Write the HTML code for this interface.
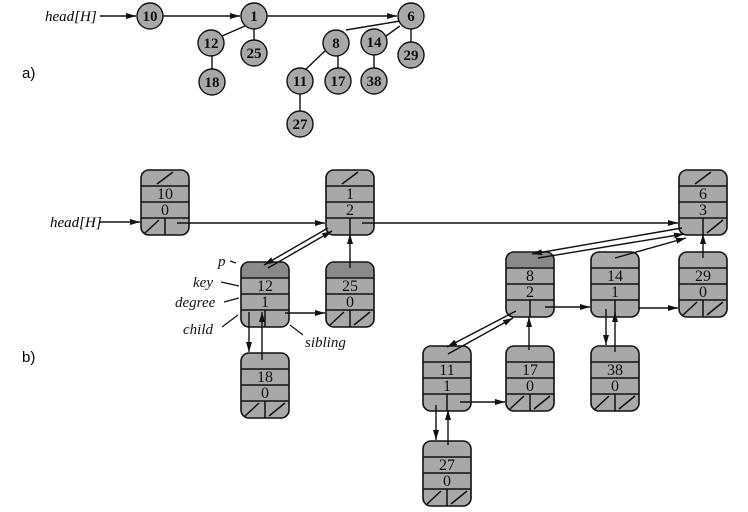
<!DOCTYPE html>
<html><head><style>body{margin:0;background:#fff}svg{display:block}</style></head><body>
<svg width="748" height="512" viewBox="0 0 748 512" xmlns="http://www.w3.org/2000/svg" font-family="Liberation Serif, serif">
<defs>
<marker id="ah" markerWidth="10" markerHeight="6" refX="10" refY="3" orient="auto" markerUnits="userSpaceOnUse"><path d="M0,0 L10,3 L0,6 z" fill="#111"/></marker>
</defs>
<!-- part a -->
<g stroke="#111" stroke-width="1.4" fill="none">
<line x1="100" y1="16" x2="136" y2="16" marker-end="url(#ah)"/>
<line x1="163" y1="16" x2="240" y2="16" marker-end="url(#ah)"/>
<line x1="267" y1="16" x2="397" y2="16" marker-end="url(#ah)"/>
<line x1="245" y1="26" x2="222" y2="36"/>
<line x1="254" y1="29" x2="254" y2="40"/>
<line x1="212" y1="56" x2="212" y2="69"/>
<line x1="346" y1="30" x2="400" y2="21"/>
<line x1="386" y1="36" x2="400" y2="26"/>
<line x1="411" y1="29" x2="411" y2="42"/>
<line x1="326" y1="50" x2="306" y2="69"/>
<line x1="338" y1="56" x2="338" y2="68"/>
<line x1="374" y1="55" x2="374" y2="68"/>
<line x1="300" y1="94" x2="300" y2="111"/>
</g>
<g fill="#a8a8a8" stroke="#111" stroke-width="1.4">
<circle cx="150" cy="16" r="13"/><circle cx="254" cy="16" r="13"/><circle cx="411" cy="16" r="13"/>
<circle cx="211" cy="43" r="13"/><circle cx="254" cy="53" r="13"/><circle cx="212" cy="82" r="13"/>
<circle cx="336" cy="43" r="13"/><circle cx="374" cy="42" r="13"/><circle cx="411" cy="55" r="13"/>
<circle cx="300" cy="81" r="13"/><circle cx="338" cy="81" r="13"/><circle cx="374" cy="81" r="13"/>
<circle cx="300" cy="124" r="13"/>
</g>
<g font-size="15" font-weight="bold" text-anchor="middle" fill="#111">
<text x="150" y="21">10</text><text x="254" y="21">1</text><text x="411" y="21">6</text>
<text x="211" y="48">12</text><text x="254" y="58">25</text><text x="212" y="87">18</text>
<text x="336" y="48">8</text><text x="374" y="47">14</text><text x="411" y="60">29</text>
<text x="300" y="86">11</text><text x="338" y="86">17</text><text x="374" y="86">38</text>
<text x="300" y="129">27</text>
</g>
<text x="45" y="21" font-size="15" font-style="italic">head[H]</text>
<text x="22" y="78" font-size="15" font-family="Liberation Sans, sans-serif">a)</text>
<text x="22" y="362" font-size="15" font-family="Liberation Sans, sans-serif">b)</text>
<text x="50" y="227" font-size="15" font-style="italic">head[H]</text>

<g stroke="#111" stroke-width="1.6" fill="#a8a8a8">
<rect x="141" y="170" width="48" height="65" rx="8"/>
<rect x="326" y="170" width="48" height="65" rx="8"/>
<rect x="679" y="170" width="48" height="65" rx="8"/>
<rect x="241" y="262" width="48" height="65" rx="8"/>
<rect x="326" y="262" width="48" height="65" rx="8"/>
<rect x="241" y="353" width="48" height="65" rx="8"/>
<rect x="506" y="252" width="48" height="65" rx="8"/>
<rect x="591" y="252" width="48" height="65" rx="8"/>
<rect x="679" y="252" width="48" height="65" rx="8"/>
<rect x="423" y="346" width="48" height="65" rx="8"/>
<rect x="506" y="346" width="48" height="65" rx="8"/>
<rect x="591" y="346" width="48" height="65" rx="8"/>
<rect x="423" y="441" width="48" height="65" rx="8"/>
</g>
<g fill="#8a8a8a" stroke="none">
<path d="M249,263 h32 a7,7 0 0 1 7,7 v7 h-46 v-7 a7,7 0 0 1 7,-7z"/>
<path d="M334,263 h32 a7,7 0 0 1 7,7 v7 h-46 v-7 a7,7 0 0 1 7,-7z"/>
<path d="M514,253 h32 a7,7 0 0 1 7,7 v7 h-46 v-7 a7,7 0 0 1 7,-7z"/>
</g>
<g stroke="#111" stroke-width="1.5" fill="none">
<path d="M141,186h48M141,202h48M141,218h48M165,218v17 M157,184l16,-12 M145,233l14,-13"/>
<path d="M326,186h48M326,202h48M326,218h48M350,218v17 M342,184l16,-12"/>
<path d="M679,186h48M679,202h48M679,218h48M703,218v17 M695,184l16,-12 M707,233l16,-13"/>
<path d="M241,278h48M241,294h48M241,310h48M265,310v17"/>
<path d="M326,278h48M326,294h48M326,310h48M350,310v17 M330,325l14,-13 M354,325l16,-13"/>
<path d="M241,369h48M241,385h48M241,401h48M265,401v17 M245,416l14,-13 M269,416l16,-13"/>
<path d="M506,268h48M506,284h48M506,300h48M530,300v17"/>
<path d="M591,268h48M591,284h48M591,300h48M615,300v17"/>
<path d="M679,268h48M679,284h48M679,300h48M703,300v17 M683,315l14,-13 M707,315l16,-13"/>
<path d="M423,362h48M423,378h48M423,394h48M447,394v17"/>
<path d="M506,362h48M506,378h48M506,394h48M530,394v17 M510,409l14,-13 M534,409l16,-13"/>
<path d="M591,362h48M591,378h48M591,394h48M615,394v17 M595,409l14,-13 M619,409l16,-13"/>
<path d="M423,457h48M423,473h48M423,489h48M447,489v17 M427,504l14,-13 M451,504l16,-13"/>
</g>
<g font-size="16" text-anchor="middle" fill="#111">
<text x="165" y="199">10</text><text x="165" y="215">0</text>
<text x="350" y="199">1</text><text x="350" y="215">2</text>
<text x="703" y="199">6</text><text x="703" y="215">3</text>
<text x="265" y="291">12</text><text x="265" y="307">1</text>
<text x="350" y="291">25</text><text x="350" y="307">0</text>
<text x="265" y="382">18</text><text x="265" y="398">0</text>
<text x="530" y="281">8</text><text x="530" y="297">2</text>
<text x="615" y="281">14</text><text x="615" y="297">1</text>
<text x="703" y="281">29</text><text x="703" y="297">0</text>
<text x="447" y="375">11</text><text x="447" y="391">1</text>
<text x="530" y="375">17</text><text x="530" y="391">0</text>
<text x="615" y="375">38</text><text x="615" y="391">0</text>
<text x="447" y="470">27</text><text x="447" y="486">0</text>
</g>
<g stroke="#111" stroke-width="1.4" fill="none" marker-end="url(#ah)">
<line x1="100" y1="222" x2="140" y2="222"/>
<line x1="177" y1="223" x2="325" y2="223"/>
<line x1="362" y1="223" x2="678" y2="223"/>
<line x1="328" y1="228" x2="264" y2="265"/>
<line x1="268" y1="268" x2="332" y2="231"/>
<line x1="249" y1="312" x2="249" y2="352"/>
<line x1="262" y1="360" x2="262" y2="312"/>
<line x1="285" y1="313" x2="325" y2="313"/>
<line x1="350" y1="268" x2="350" y2="234"/>
<line x1="682" y1="228" x2="532" y2="254"/>
<line x1="538" y1="258" x2="684" y2="234"/>
<line x1="615" y1="258" x2="686" y2="238"/>
<line x1="545" y1="307" x2="590" y2="307"/>
<line x1="638" y1="308" x2="678" y2="308"/>
<line x1="703" y1="258" x2="703" y2="234"/>
<line x1="516" y1="311" x2="447" y2="347"/>
<line x1="448" y1="354" x2="513" y2="318"/>
<line x1="529" y1="350" x2="529" y2="317"/>
<line x1="606" y1="309" x2="606" y2="345"/>
<line x1="615" y1="352" x2="615" y2="312"/>
<line x1="460" y1="402" x2="505" y2="402"/>
<line x1="436" y1="405" x2="436" y2="440"/>
<line x1="448" y1="445" x2="448" y2="410"/>
</g>
<g font-size="15" font-style="italic" fill="#111">
<text x="218" y="266">p</text>
<text x="193" y="287">key</text>
<text x="175" y="307">degree</text>
<text x="183" y="334">child</text>
<text x="305" y="347">sibling</text>
</g>
<g stroke="#111" stroke-width="1.2">
<line x1="230" y1="261" x2="236" y2="263"/>
<line x1="221" y1="282" x2="239" y2="286"/>
<line x1="224" y1="302" x2="239" y2="298"/>
<line x1="222" y1="327" x2="238" y2="315"/>
<line x1="290" y1="325" x2="303" y2="335"/>
</g>
</svg>
</body></html>
